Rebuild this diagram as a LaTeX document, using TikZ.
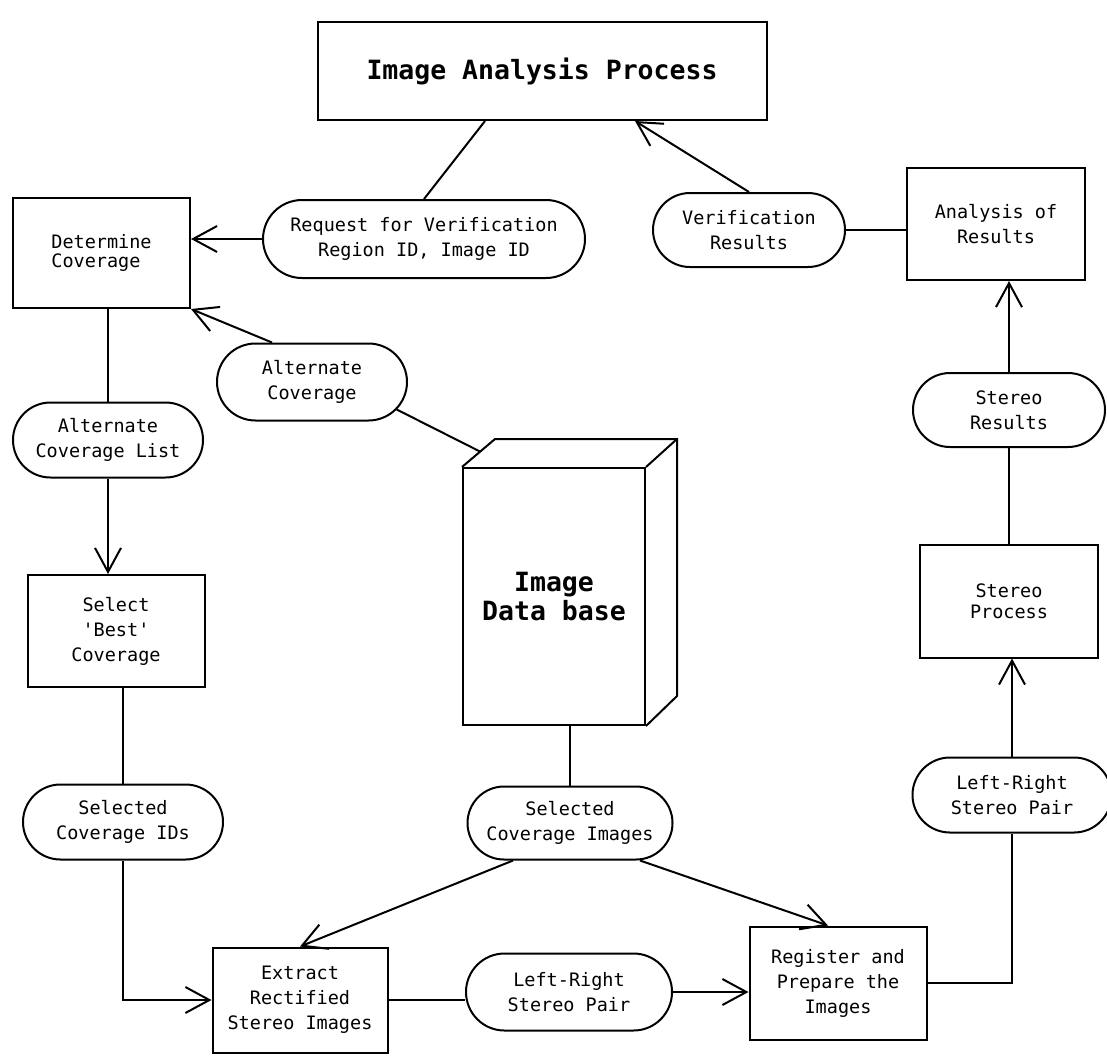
\documentclass[tikz,border=0pt]{standalone}
\usepackage{fontspec}
\setmonofont{DejaVu Sans Mono}
\usetikzlibrary{shapes.misc,arrows.meta,calc}

\begin{document}
\begin{tikzpicture}[x=1pt,y=-1pt,line width=2pt,
	procbox/.style={draw,rectangle,inner sep=0pt,align=center,font=\ttfamily\fontsize{18.5}{25}\selectfont},
	dataflow/.style={draw,rounded rectangle,inner sep=0pt,align=center,font=\ttfamily\fontsize{18.5}{25}\selectfont},
	flow/.style={-{Straight Barb[length=24pt,width=26pt]}}]
	\useasboundingbox (0,0) rectangle (1107,1055);

	%PROCESS BOXES
	\node[procbox,minimum width=449pt,minimum height=98pt,font=\ttfamily\bfseries\fontsize{26.5}{30}\selectfont] (iap) at (542,71) {Image Analysis Process};
	\node[procbox,minimum width=177pt,minimum height=110pt,align=left,font=\ttfamily\fontsize{18.5}{18.5}\selectfont] (det) at (101.5,253) {Determine\\Coverage};
	\node[procbox,minimum width=178pt,minimum height=112pt] (ana) at (996,224) {Analysis of\\Results};
	\node[procbox,minimum width=177pt,minimum height=112pt] (sel) at (116,631) {Select\\'Best'\\Coverage};
	\node[procbox,minimum width=178pt,minimum height=113pt,font=\ttfamily\fontsize{18.5}{21}\selectfont] (spr) at (1009,601) {Stereo\\Process};
	\node[procbox,minimum width=175pt,minimum height=105pt] (ext) at (300,1000) {Extract\\Rectified\\Stereo Images};
	\node[procbox,minimum width=177pt,minimum height=113pt] (reg) at (838,983) {Register and\\Prepare the\\Images};

	%DATA FLOWS
	\node[dataflow,minimum width=322pt,minimum height=78pt] (req) at (424,239) {Request for Verification\\Region ID, Image ID};
	\node[dataflow,minimum width=192pt,minimum height=74pt] (ver) at (749,230) {Verification\\Results};
	\node[dataflow,minimum width=190pt,minimum height=77pt] (alt) at (312,382) {Alternate\\Coverage};
	\node[dataflow,minimum width=190pt,minimum height=75pt] (acl) at (108,440) {Alternate\\Coverage List};
	\node[dataflow,minimum width=192pt,minimum height=74pt] (sres) at (1009,410) {Stereo\\Results};
	\node[dataflow,minimum width=199pt,minimum height=75pt] (lrr) at (1012,795) {Left-Right\\Stereo Pair};
	\node[dataflow,minimum width=200pt,minimum height=75pt] (sid) at (123,822) {Selected\\Coverage IDs};
	\node[dataflow,minimum width=205pt,minimum height=73pt] (sci) at (570,823) {Selected\\Coverage Images};
	\node[dataflow,minimum width=206pt,minimum height=77pt] (lrb) at (569,992) {Left-Right\\Stereo Pair};

	%DATA BASE
	\node[procbox,minimum width=182pt,minimum height=257pt,font=\ttfamily\bfseries\fontsize{26.5}{29}\selectfont] (db) at (554,596.5) {Image\\Data base};
	\draw (db.north west) -- ++(33,-28) coordinate (dbbl) -- ++(182,0) coordinate (dbbr) -- ++(0,257) -- (db.south east);
	\draw (db.north east) -- (dbbr);

	%CONNECTORS
	\draw (req.north) -- ([xshift=-57pt]iap.south);
	\draw[flow] (ver.north) -- ([xshift=93pt]iap.south);
	\draw[flow] (req.west) -- (req.west -| det.east);
	\draw[flow] ([xshift=-40pt]alt.north) -- (det.south east);
	\draw (alt.-18) -- ($(db.north west)!0.55!(dbbl)$);
	\draw (acl.north |- det.south) -- (acl.north);
	\draw[flow] (acl.south) -- (acl.south |- sel.north);
	\draw (sid.north |- sel.south) -- (sid.north);
	\draw[flow] (sid.south) |- (ext.west);
	\draw (sci.north |- db.south) -- (sci.north);
	\draw[flow] ([xshift=-57pt]sci.south) -- (ext.north);
	\draw[flow] ([xshift=70pt]sci.south) -- ([xshift=-10pt]reg.north);
	\draw (ext.east) -- (ext.east -| lrb.west);
	\draw[flow] (lrb.east) -- (lrb.east -| reg.west);
	\draw (reg.east) -| (lrr.south);
	\draw[flow] (lrr.north) -- (lrr.north |- spr.south);
	\draw (sres.south) -- (sres.south |- spr.north);
	\draw[flow] (sres.north) -- (sres.north |- ana.south);
	\draw (ver.east) -- (ver.east -| ana.west);
\end{tikzpicture}
\end{document}
